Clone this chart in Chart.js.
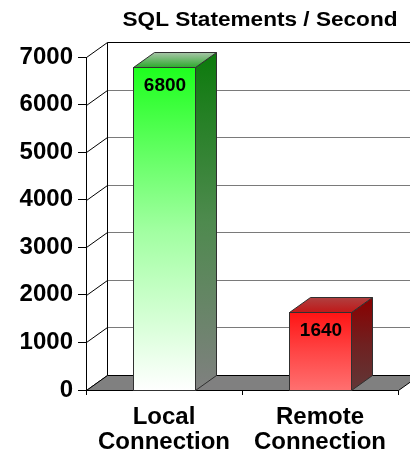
<!DOCTYPE html>
<html>
<head>
<meta charset="utf-8">
<script src="https://cdn.jsdelivr.net/npm/chart.js@4/dist/chart.umd.min.js"></script>
<style>
  html, body { margin: 0; padding: 0; background: #fff; }
  #wrap { width: 410px; height: 450px; }
</style>
</head>
<body>
<div id="wrap"><canvas id="sql-chart"></canvas></div>
<script>
var categories = [["Local", "Connection"], ["Remote", "Connection"]];
var statementsPerSecond = [6800, 1640];
var yMax = 7000;
var yStep = 1000;
var chartTitle = "SQL Statements / Second";

// 3d look
var depth = { dx: 21, dy: 15 };
var barStyles = [
    { front: ["#1eff1e", "#a0ffa0", "#ffffff"], side: ["#0c7a0c", "#4e8a4e", "#808080"], top: ["#a8c4a8", "#2caa2c"] },
    { front: ["#ff1414", "#ff4545", "#ff7070"], side: ["#8a0000", "#702020", "#603838"], top: ["#b04040", "#c01818"] }
];

function vGrad(ctx, y0, y1, stops) {
    var g = ctx.createLinearGradient(0, y0, 0, y1);
    stops.forEach(function (c, i) { g.addColorStop(i / (stops.length - 1), c); });
    return g;
}

var box3d = {
    id: 'box3d',
    beforeDatasetsDraw: function (chart) {
        var ctx = chart.ctx, a = chart.chartArea, y = chart.scales.y;
        var W = chart.width;
        var L = Math.round(a.left) + 0.5, B = Math.round(a.bottom) + 0.5;
        ctx.save();
        ctx.lineWidth = 1;
        // back wall grid
        y.ticks.forEach(function (t) {
            var py = Math.round(y.getPixelForValue(t.value)) + 0.5;
            if (t.value > 0) {
                ctx.strokeStyle = t.value === yMax ? "#000" : "#7a7a7a";
                ctx.beginPath();
                ctx.moveTo(L + depth.dx, py - depth.dy);
                ctx.lineTo(W, py - depth.dy);
                ctx.stroke();
            }
            ctx.strokeStyle = "#000";
            ctx.beginPath();
            ctx.moveTo(L, py);
            ctx.lineTo(L + depth.dx, py - depth.dy);
            ctx.stroke();
        });
        ctx.strokeStyle = "#000";
        ctx.beginPath();
        ctx.moveTo(L + depth.dx, Math.round(a.top) + 0.5 - depth.dy);
        ctx.lineTo(L + depth.dx, B - depth.dy);
        ctx.stroke();
        // floor
        ctx.fillStyle = "#808080";
        ctx.beginPath();
        ctx.moveTo(L, B);
        ctx.lineTo(Math.round(a.right) + 0.5, B);
        ctx.lineTo(Math.round(a.right) + 0.5 + depth.dx, B - depth.dy);
        ctx.lineTo(L + depth.dx, B - depth.dy);
        ctx.closePath();
        ctx.fill();
        ctx.stroke();
        ctx.restore();
    },
    afterDatasetsDraw: function (chart) {
        var ctx = chart.ctx;
        var meta = chart.getDatasetMeta(0);
        ctx.save();
        ctx.lineWidth = 1;
        ctx.strokeStyle = "#303030";
        meta.data.forEach(function (el, i) {
            var s = barStyles[i];
            var l = Math.round(el.x - el.width / 2) + 0.5;
            var r = Math.round(el.x + el.width / 2) + 0.5;
            var t = Math.round(el.y) + 0.5;
            var b = Math.round(el.base) + 0.5;
            // front
            ctx.fillStyle = vGrad(ctx, t, b, s.front);
            ctx.fillRect(l, t, r - l, b - t);
            ctx.strokeRect(l, t, r - l, b - t);
            // side
            ctx.fillStyle = vGrad(ctx, t - depth.dy, b, s.side);
            ctx.beginPath();
            ctx.moveTo(r, t);
            ctx.lineTo(r + depth.dx, t - depth.dy);
            ctx.lineTo(r + depth.dx, b - depth.dy);
            ctx.lineTo(r, b);
            ctx.closePath();
            ctx.fill();
            ctx.stroke();
            // top
            ctx.fillStyle = vGrad(ctx, t - depth.dy, t, s.top);
            ctx.beginPath();
            ctx.moveTo(l, t);
            ctx.lineTo(l + depth.dx, t - depth.dy);
            ctx.lineTo(r + depth.dx, t - depth.dy);
            ctx.lineTo(r, t);
            ctx.closePath();
            ctx.fill();
            ctx.stroke();
            // value
            ctx.fillStyle = "#000";
            ctx.font = "bold 19px 'Liberation Sans', Arial, sans-serif";
            ctx.textAlign = "center";
            ctx.textBaseline = "middle";
            ctx.fillText(String(statementsPerSecond[i]), el.x + 1, el.y + 19);
        });
        ctx.restore();
    },
    afterDraw: function (chart) {
        var ctx = chart.ctx;
        ctx.save();
        ctx.translate(260, 20);
        ctx.scale(1.13, 1);
        ctx.fillStyle = "#000";
        ctx.font = "bold 20px 'Liberation Sans', Arial, sans-serif";
        ctx.textAlign = "center";
        ctx.textBaseline = "middle";
        ctx.fillText(chartTitle, 0, 0);
        ctx.restore();
    }
};

var tickFont = { family: "'Liberation Sans', Arial, sans-serif", size: 24, weight: 'bold', lineHeight: 1.05 };

new Chart(document.getElementById('sql-chart'), {
    type: 'bar',
    data: {
        labels: categories,
        datasets: [{
            label: chartTitle,
            data: statementsPerSecond,
            backgroundColor: 'rgba(0,0,0,0)',
            borderWidth: 0,
            barPercentage: 0.8,
            categoryPercentage: 0.5
        }]
    },
    options: {
        responsive: true,
        maintainAspectRatio: false,
        animation: false,
        layout: { padding: { top: 57, right: 12, left: 0, bottom: 0 } },
        scales: {
            x: {
                grid: { drawOnChartArea: false, tickLength: 5, color: '#000' },
                border: { display: true, color: '#000' },
                ticks: { color: '#000', font: tickFont, padding: 10, maxRotation: 0 },
                afterFit: function (s) { s.height = 60; }
            },
            y: {
                min: 0,
                max: yMax,
                grid: { drawOnChartArea: false, tickLength: 8, color: '#000' },
                border: { display: true, color: '#000' },
                ticks: {
                    stepSize: yStep, color: '#000', font: tickFont, padding: 5,
                    callback: function (v) { return String(v); }
                },
                afterFit: function (s) { s.width = 86; }
            }
        },
        plugins: {
            legend: { display: false },
            title: { display: false },
            tooltip: { enabled: false }
        }
    },
    plugins: [box3d]
});
</script>
</body>
</html>
